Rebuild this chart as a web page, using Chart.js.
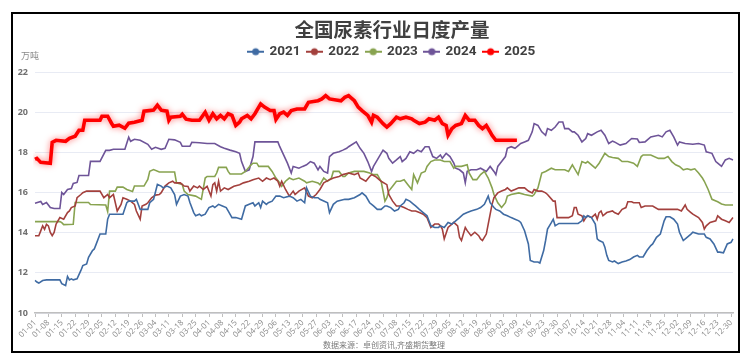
<!DOCTYPE html>
<html><head><meta charset="utf-8">
<script src="https://cdn.jsdelivr.net/npm/chart.js@4/dist/chart.umd.min.js"></script>
<style>
html,body{margin:0;padding:0;background:#fff;overflow:hidden;}
#frame{position:absolute;left:11px;top:12px;width:729px;height:341px;border:2px solid #000;box-sizing:border-box;overflow:hidden;}
#c{display:block;}
</style></head><body>
<div id="frame"><canvas id="c" width="758" height="337"></canvas></div>
<script>
// ---- categories (leap-year calendar, MM-DD) ----
const monthDays = [31,29,31,30,31,30,31,31,30,31,30,31];
const categories = [];
monthDays.forEach((n, m) => { for (let d = 1; d <= n; d++) categories.push(String(m+1).padStart(2,'0') + '-' + String(d).padStart(2,'0')); });
const tickEvery = 7;
const yTicks = [10, 12, 14, 16, 18, 20, 22];
const years = ['2021','2022','2023','2024','2025'];

// ---- 2025 ----
const dates2025 = ['01-01','01-02','01-04','01-09','01-10','01-12','01-17','01-19','01-22','01-24',
'01-26','01-27','02-04','02-05','02-08','02-10','02-11','02-14','02-17','02-19',
'02-22','02-24','02-26','02-27','03-03','03-05','03-07','03-10','03-11','03-12',
'03-17','03-18','03-20','03-23','03-27','03-30','04-01','04-03','04-05','04-07',
'04-09','04-11','04-13','04-15','04-17','04-18','04-21','04-23','04-25','04-28',
'04-30','05-03','05-05','05-06','05-08','05-10','05-12','05-14','05-17','05-21',
'05-23','05-28','05-30','06-01','06-03','06-09','06-11','06-13','06-14','06-16',
'06-18','06-20','06-23','06-25','06-26','06-28','07-01','07-03','07-05','07-08',
'07-10','07-13','07-16','07-17','07-20','07-23','07-25','07-28','07-30','08-01',
'08-03','08-04','08-06','08-08','08-11','08-13','08-15','08-18','08-20','08-22',
'08-24','08-26','08-27','08-29','09-09'];
const values2025 = [17.65,17.7,17.5,17.45,18.5,18.6,18.55,18.7,18.8,19.1,
19.1,19.6,19.6,19.8,19.8,19.45,19.3,19.35,19.2,19.45,
19.5,19.55,19.6,20.05,20.1,20.35,20.1,20.05,19.6,19.75,
19.8,19.9,19.65,19.6,19.6,20.0,19.6,19.92,19.67,19.84,
19.67,19.92,19.84,19.34,19.5,19.67,19.84,19.67,19.92,20.41,
20.25,20.08,20.08,19.64,19.92,20.0,19.84,20.08,20.16,20.16,
20.49,20.57,20.66,20.82,20.66,20.57,20.74,20.82,20.74,20.57,
20.25,20.08,19.84,19.5,19.84,19.75,19.43,19.26,19.43,19.75,
19.67,19.75,19.67,19.6,19.43,19.5,19.67,19.6,19.75,19.43,
19.34,18.85,19.18,19.34,19.43,19.84,19.6,19.6,19.34,19.18,
19.34,19.02,18.85,18.6,18.6];

// ---- 2024 ----
const dates2024 = ['01-01','01-04','01-05','01-07','01-09','01-11','01-14','01-15','01-16','01-18',
'01-20','01-21','01-23','01-24','01-29','01-30','02-04','02-07','02-09','02-11',
'02-17','02-19','02-20','02-22','02-25','02-29','03-02','03-04','03-07','03-09',
'03-11','03-14','03-17','03-18','03-22','03-23','03-27','03-31','04-04','04-07',
'04-09','04-12','04-15','04-17','04-18','04-20','04-22','04-24','04-25','05-07',
'05-08','05-10','05-12','05-14','05-15','05-18','05-20','05-22','05-24','05-26',
'05-28','05-29','05-31','06-02','06-03','06-05','06-08','06-10','06-12','06-13',
'06-17','06-19','06-21','06-23','06-25','06-26','06-28','07-01','07-03','07-04',
'07-06','07-08','07-10','07-11','07-13','07-15','07-17','07-19','07-21','07-23',
'07-25','07-27','07-29','07-31','08-01','08-03','08-05','08-07','08-08','08-10',
'08-12','08-13','08-14','08-16','08-19','08-21','08-24','08-26','08-28','08-29',
'08-30','09-01','09-03','09-04','09-06','09-08','09-10','09-11','09-13','09-15',
'09-17','09-18','09-20','09-22','09-24','09-25','09-27','09-29','10-01','10-03',
'10-04','10-06','10-08','10-09','10-11','10-13','10-15','10-16','10-18','10-21',
'10-23','10-25','10-27','10-29','10-30','11-02','11-05','11-08','11-11','11-12',
'11-15','11-18','11-22','11-24','11-26','11-28','11-30','12-02','12-03','12-06',
'12-10','12-13','12-16','12-17','12-20','12-22','12-23','12-25','12-27','12-29',
'12-31'];
const values2024 = [15.46,15.55,15.4,15.5,15.25,15.2,15.2,16.0,15.9,16.15,
16.2,16.45,16.5,16.85,16.85,17.55,17.55,18.1,18.1,18.15,
18.15,18.75,18.55,18.65,18.6,18.4,18.15,18.25,18.15,18.2,
18.65,18.62,18.5,18.3,18.3,18.5,18.48,18.44,18.44,18.28,
18.2,18.11,18.03,17.95,17.54,17.05,17.13,17.79,18.52,18.52,
18.28,17.87,17.46,16.97,17.3,17.21,17.3,17.38,17.54,17.46,
17.13,17.3,17.05,16.97,17.79,17.95,18.03,18.11,18.2,18.28,
18.52,18.2,17.95,17.54,17.05,17.3,17.62,18.11,17.95,17.7,
17.46,17.62,17.79,17.54,17.7,18.03,17.95,18.11,18.03,18.28,
18.28,17.79,17.7,17.87,17.7,17.95,17.79,17.46,17.21,17.13,
16.97,16.48,17.05,17.13,17.13,17.21,17.05,17.3,17.05,16.89,
17.3,17.54,17.79,18.2,18.28,18.2,18.36,18.44,18.52,18.6,
19.02,19.43,19.34,19.02,18.85,19.18,19.1,19.26,19.51,19.51,
19.18,19.18,19.02,19.02,18.85,18.52,18.69,18.93,18.85,19.02,
19.1,18.85,18.44,18.56,18.52,18.36,18.44,18.69,18.66,18.49,
18.52,18.77,18.85,18.77,19.02,19.1,18.77,18.36,18.52,18.44,
18.4,18.44,18.36,18.03,17.95,17.54,17.46,17.3,17.62,17.7,
17.62];

// ---- 2023 ----
const dates2023 = ['01-01','01-14','01-15','01-16','01-21','01-22','01-29','01-30','02-07','02-08',
'02-09','02-12','02-13','02-16','02-18','02-21','02-22','02-27','02-29','03-01',
'03-03','03-06','03-14','03-15','03-18','03-19','03-21','03-25','03-28','03-30',
'03-31','04-04','04-05','04-06','04-10','04-11','04-12','04-18','04-20','04-23',
'04-24','04-26','04-27','05-02','05-04','05-06','05-08','05-09','05-11','05-13',
'05-15','05-18','05-21','05-22','05-25','05-28','05-29','05-31','06-02','06-04',
'06-05','06-08','06-10','06-11','06-13','06-16','06-21','06-24','06-26','06-28',
'06-30','07-02','07-03','07-04','07-06','07-08','07-10','07-12','07-14','07-16',
'07-17','07-19','07-21','07-23','07-24','07-26','07-28','07-31','08-02','08-05',
'08-07','08-08','08-11','08-14','08-15','08-17','08-19','08-21','08-23','08-25',
'08-27','08-28','08-30','09-01','09-03','09-04','09-06','09-10','09-13','09-17',
'09-18','09-20','09-22','09-24','09-27','09-29','10-02','10-04','10-06','10-08',
'10-09','10-11','10-13','10-15','10-16','10-18','10-20','10-22','10-23','10-25',
'10-27','10-29','11-01','11-03','11-06','11-09','11-11','11-13','11-14','11-18',
'11-22','11-25','11-27','11-29','12-01','12-03','12-05','12-07','12-09','12-11',
'12-13','12-15','12-16','12-18','12-20','12-23','12-25','12-27','12-31'];
const values2023 = [14.55,14.55,14.5,14.4,14.42,15.5,15.5,15.4,15.38,15.05,
16.07,16.07,16.27,16.27,16.15,16.05,16.32,16.32,16.65,17.06,
17.14,17.02,17.02,16.48,16.4,16.07,15.9,15.82,15.66,16.72,
16.8,16.8,16.97,17.25,17.25,17.05,16.92,16.92,17.05,17.38,
17.46,17.46,17.3,17.3,17.05,16.72,16.48,16.31,16.56,16.72,
16.64,16.72,16.56,16.48,16.56,16.48,16.39,16.72,16.56,16.72,
17.05,17.05,16.8,16.8,16.97,17.05,17.05,16.97,16.89,16.89,
16.56,15.57,15.74,16.07,16.31,16.56,16.56,16.64,16.39,16.15,
16.89,16.48,16.97,17.05,17.3,17.54,17.62,17.62,17.54,17.54,
17.21,17.3,17.3,17.38,16.97,16.64,16.64,16.89,17.05,16.72,
16.23,15.9,15.49,15.25,15.49,15.82,15.9,15.98,15.9,15.82,
15.9,16.23,16.97,17.05,17.21,17.13,17.13,17.13,17.05,17.38,
17.21,16.89,17.54,17.46,17.54,17.38,17.21,17.46,17.62,17.95,
17.79,17.74,17.7,17.54,17.54,17.46,17.3,17.79,17.87,17.87,
17.7,17.7,17.79,17.54,17.38,17.3,17.13,17.18,17.13,17.18,
16.97,16.72,16.56,16.15,15.66,15.54,15.43,15.38,15.38];

// ---- 2022 ----
const dates2022 = ['01-01','01-03','01-04','01-05','01-06','01-07','01-08','01-09','01-10','01-11',
'01-12','01-13','01-14','01-16','01-18','01-19','01-20','01-22','01-23','01-25',
'01-26','01-28','02-04','02-06','02-08','02-09','02-11','02-13','02-15','02-16',
'02-18','02-20','02-22','02-23','02-25','02-26','02-28','02-29','03-02','03-04',
'03-06','03-07','03-09','03-11','03-13','03-14','03-17','03-19','03-21','03-22',
'03-24','03-26','03-27','03-29','03-31','04-02','04-03','04-04','04-05','04-06',
'04-07','04-09','04-11','04-14','04-17','04-19','04-22','04-24','04-27','04-29',
'05-01','05-03','05-05','05-07','05-08','05-09','05-11','05-13','05-15','05-16',
'05-18','05-21','05-23','05-25','05-27','05-29','05-31','06-03','06-05','06-08',
'06-10','06-13','06-16','06-18','06-19','06-22','06-24','06-25','06-27','06-30',
'07-03','07-04','07-06','07-08','07-10','07-12','07-14','07-16','07-18','07-20',
'07-22','07-24','07-25','07-26','07-28','07-30','07-31','08-01','08-02','08-04',
'08-06','08-07','08-09','08-10','08-11','08-13','08-14','08-16','08-18','08-20',
'08-21','08-22','08-24','08-25','08-27','08-28','08-30','09-01','09-03','09-04',
'09-06','09-08','09-10','09-13','09-15','09-17','09-18','09-20','09-22','09-24',
'09-25','09-28','09-29','09-30','10-06','10-08','10-09','10-10','10-11','10-13',
'10-14','10-15','10-16','10-18','10-20','10-21','10-22','10-23','10-24','10-26',
'10-29','10-30','11-01','11-03','11-05','11-06','11-08','11-09','11-12','11-13',
'11-15','11-19','11-22','11-29','12-02','12-04','12-06','12-07','12-09','12-10',
'12-13','12-15','12-16','12-17','12-19','12-22','12-23','12-25','12-27','12-29',
'12-31'];
const values2022 = [13.85,13.85,14.09,14.34,14.17,14.42,14.34,14.01,13.85,14.01,
14.42,14.59,14.75,14.67,15.0,15.08,15.25,15.33,15.74,15.9,
15.99,16.07,16.07,15.74,15.9,15.74,15.9,15.08,15.41,15.74,
15.66,15.57,15.41,15.08,14.67,15.33,15.41,15.49,15.74,15.87,
15.9,15.99,16.32,16.48,16.56,16.48,16.48,16.32,16.3,16.07,
16.32,16.23,16.32,16.15,16.31,15.82,16.39,16.48,16.07,16.56,
16.07,16.23,16.15,16.31,16.39,16.48,16.56,16.64,16.72,16.56,
16.72,16.64,16.72,16.56,16.31,16.56,16.15,15.82,16.07,15.9,
16.07,16.23,15.82,15.74,15.9,16.15,16.48,16.64,16.72,16.8,
16.89,16.97,16.89,16.97,16.72,16.56,16.8,16.89,16.8,16.56,
16.39,15.9,15.57,15.33,15.33,15.25,15.16,15.08,15.08,15.0,
14.92,14.75,14.51,14.26,14.43,14.43,14.34,14.18,13.69,14.26,
14.43,14.51,14.34,13.77,13.61,14.26,14.1,13.85,14.02,13.85,
13.69,13.61,13.93,14.43,15.41,15.74,15.98,16.07,16.15,16.23,
16.07,16.15,16.23,16.23,16.07,15.98,16.15,16.07,16.07,15.98,
15.9,15.57,15.57,14.75,14.75,14.84,15.25,15.25,14.92,14.84,
14.59,14.75,14.84,14.75,14.92,14.67,15.0,15.08,14.84,15.0,
15.08,15.0,14.92,15.16,15.25,15.54,15.54,15.49,15.49,15.25,
15.33,15.33,15.16,15.16,15.16,15.08,15.38,15.16,15.0,14.92,
14.75,14.51,14.18,14.34,14.51,14.59,14.84,14.67,14.59,14.51,
14.75];

// ---- 2021 ----
const dates2021 = ['01-01','01-02','01-03','01-05','01-07','01-14','01-15','01-17','01-18','01-19',
'01-20','01-21','01-23','01-25','01-26','01-28','01-29','01-31','02-01','02-02',
'02-04','02-07','02-08','02-09','02-16','02-18','02-19','02-22','02-23','02-25',
'02-29','03-01','03-03','03-05','03-07','03-08','03-10','03-12','03-14','03-15',
'03-17','03-19','03-21','03-22','03-24','03-25','03-27','03-28','03-30','04-01',
'04-03','04-04','04-06','04-08','04-10','04-11','04-13','04-15','04-18','04-20',
'04-22','04-24','04-25','04-27','04-28','04-29','05-01','05-02','05-04','05-06',
'05-08','05-10','05-13','05-15','05-17','05-19','05-21','05-22','05-24','05-26',
'05-28','05-29','06-02','06-03','06-05','06-07','06-11','06-13','06-16','06-19',
'06-20','06-22','06-24','06-26','06-28','06-30','07-02','07-03','07-05','07-07',
'07-09','07-10','07-12','07-13','07-15','07-17','07-18','07-20','07-22','07-24',
'07-25','07-26','07-28','07-30','07-31','08-02','08-04','08-06','08-08','08-10',
'08-12','08-14','08-16','08-19','08-21','08-23','08-25','08-26','08-28','08-29',
'08-31','09-02','09-04','09-06','09-08','09-10','09-11','09-13','09-15','09-16',
'09-18','09-20','09-21','09-23','09-24','09-25','09-27','09-28','09-29','10-01',
'10-11','10-13','10-14','10-15','10-16','10-18','10-20','10-21','10-22','10-24',
'10-25','10-26','10-27','10-29','10-30','11-01','11-03','11-05','11-07','11-09',
'11-11','11-12','11-14','11-16','11-18','11-19','11-21','11-23','11-25','11-26',
'11-28','11-30','12-02','12-03','12-05','12-07','12-09','12-10','12-13','12-16',
'12-17','12-19','12-21','12-23','12-24','12-26','12-28','12-30','12-31'];
const values2021 = [11.62,11.54,11.49,11.62,11.65,11.65,11.46,11.37,11.82,11.65,
11.7,11.65,11.7,12.12,12.36,12.44,12.77,13.1,13.19,13.43,
13.93,13.93,14.67,14.92,14.92,15.49,15.57,15.57,15.66,15.16,
15.16,15.49,15.66,16.4,16.32,16.23,16.32,16.23,15.9,15.41,
15.82,15.9,15.82,15.5,15.0,14.84,14.92,14.84,14.92,15.25,
15.33,15.25,15.41,15.33,15.25,15.08,14.75,14.75,14.67,15.33,
15.41,15.49,15.33,15.49,15.25,15.57,15.41,15.49,15.57,15.82,
15.82,15.74,15.82,15.74,15.57,15.66,15.49,16.23,15.82,15.74,
15.74,15.66,15.49,15.0,15.41,15.57,15.66,15.66,15.74,15.9,
15.98,15.82,15.49,15.33,15.16,15.16,15.33,15.33,15.25,15.08,
15.16,15.33,15.49,15.66,15.57,15.41,15.33,15.16,15.0,14.84,
14.59,14.34,14.26,14.26,14.34,14.26,14.51,14.43,14.59,14.75,
14.92,15.0,15.08,15.16,15.25,15.41,15.82,15.49,15.25,15.16,
15.08,14.92,14.84,14.75,14.67,14.59,14.51,14.1,13.44,12.62,
12.54,12.54,12.49,13.11,13.61,14.18,14.5,14.67,14.34,14.46,
14.46,14.59,14.84,14.75,14.84,14.75,14.43,13.69,13.61,13.52,
13.28,12.87,12.62,12.54,12.59,12.46,12.54,12.59,12.66,12.79,
12.87,12.79,12.79,13.11,13.36,13.44,13.77,13.93,14.59,14.79,
14.79,14.67,14.43,14.02,13.61,13.77,13.93,14.02,13.93,13.93,
13.77,13.69,13.44,13.03,13.03,13.0,13.44,13.52,13.69];

const seriesDates = [dates2021, dates2022, dates2023, dates2024, dates2025];
const seriesValues = [values2021, values2022, values2023, values2024, values2025];
const colors = ['#3F6BA3', '#A3403D', '#88A350', '#6E5498', '#FF0000'];
const widths = [1.6, 1.6, 1.6, 1.6, 3.6];

function zip(ds, vs) { const n = Math.min(ds.length, vs.length); const out = []; for (let i = 0; i < n; i++) out.push({x: ds[i], y: vs[i]}); return out; }

function markerFor(color) {
  const c = document.createElement('canvas'); c.width = 17; c.height = 10;
  const g = c.getContext('2d');
  g.strokeStyle = color; g.lineWidth = 2; g.beginPath(); g.moveTo(0,5); g.lineTo(17,5); g.stroke();
  g.fillStyle = color; g.beginPath(); g.arc(8.5,5,3.5,0,Math.PI*2); g.fill();
  return c;
}
const markers = colors.map(markerFor);

const glowPlugin = {
  id: 'glow',
  beforeDatasetDraw(chart, args) { if (args.index === 4) { chart.ctx.save(); chart.ctx.shadowColor = 'rgba(255,0,0,0.55)'; chart.ctx.shadowBlur = 6; } },
  afterDatasetDraw(chart, args) { if (args.index === 4) chart.ctx.restore(); }
};
const textPlugin = {
  id: 'extraText',
  afterDraw(chart) {
    const ctx = chart.ctx; ctx.save();
    ctx.fillStyle = '#8a8a8a'; ctx.font = '9px "Noto Sans CJK SC", sans-serif';
    ctx.textAlign = 'center'; ctx.textBaseline = 'middle';
    ctx.fillText('万吨', 17, 42);
    ctx.fillStyle = '#7a7a7a'; ctx.font = '8px "Noto Sans CJK SC", sans-serif';
    ctx.fillText('数据来源：卓创资讯,齐盛期货整理', 371, 331);
    ctx.restore();
  }
};

new Chart(document.getElementById('c'), {
  type: 'line',
  data: {
    labels: categories,
    datasets: years.map((y, i) => ({
      label: y,
      data: zip(seriesDates[i], seriesValues[i]),
      borderColor: colors[i], backgroundColor: colors[i],
      borderWidth: widths[i], pointRadius: 0, pointHoverRadius: 0,
      tension: 0, order: i === 4 ? 0 : 1,
      pointStyle: markers[i]
    }))
  },
  options: {
    responsive: false, animation: false,
    layout: { padding: { top: 2, left: 0, right: 0, bottom: 0 } },
    plugins: {
      tooltip: { enabled: false },
      title: { display: true, text: '全国尿素行业日度产量', color: '#404040',
        font: { family: '"Noto Sans CJK SC", sans-serif', size: 19.5, weight: 'bold', lineHeight: 1.2 }, padding: { top: 2, bottom: -3.4 } },
      subtitle: { display: true, text: '', weight: 500, font: { size: 1, lineHeight: 1 }, padding: { top: 2.5, bottom: 0 } },
      legend: { display: true, position: 'top',
        labels: { usePointStyle: true, pointStyleWidth: 14, color: '#404040', padding: 7,
          font: { family: 'Roboto, sans-serif', size: 13.5, weight: 'bold' },
          sort: (a, b) => a.datasetIndex - b.datasetIndex } }
    },
    scales: {
      x: {
        type: 'category',
        afterBuildTicks: (s) => { s.ticks = s.ticks.filter(t => t.value % tickEvery === 0); },
        afterFit: (s) => { s.height = 38; },
        ticks: { autoSkip: false, maxRotation: 45, minRotation: 45, padding: 1, color: '#8a8a8a',
          font: { family: '"Open Sans", sans-serif', size: 8 } },
        grid: { display: true, drawOnChartArea: false, drawTicks: true, tickLength: 4, color: '#bfbfbf' },
        border: { display: true, color: '#bfbfbf', width: 1.5 }
      },
      y: {
        min: 10, max: 22,
        afterBuildTicks: (s) => { s.ticks = yTicks.map(v => ({ value: v })); },
        afterFit: (s) => { s.width = 22; },
        ticks: { padding: 7, color: '#707070', font: { family: '"Open Sans", sans-serif', size: 9, weight: 'bold' } },
        grid: { color: '#e8ebf4', drawTicks: false, lineWidth: 1 },
        border: { display: false }
      },
      ySpacer: {
        type: 'linear', position: 'right', display: true,
        afterFit: (s) => { s.width = 38; },
        ticks: { display: false }, grid: { display: false }, border: { display: false }
      }
    }
  },
  plugins: [glowPlugin, textPlugin]
});
</script>
</body></html>
